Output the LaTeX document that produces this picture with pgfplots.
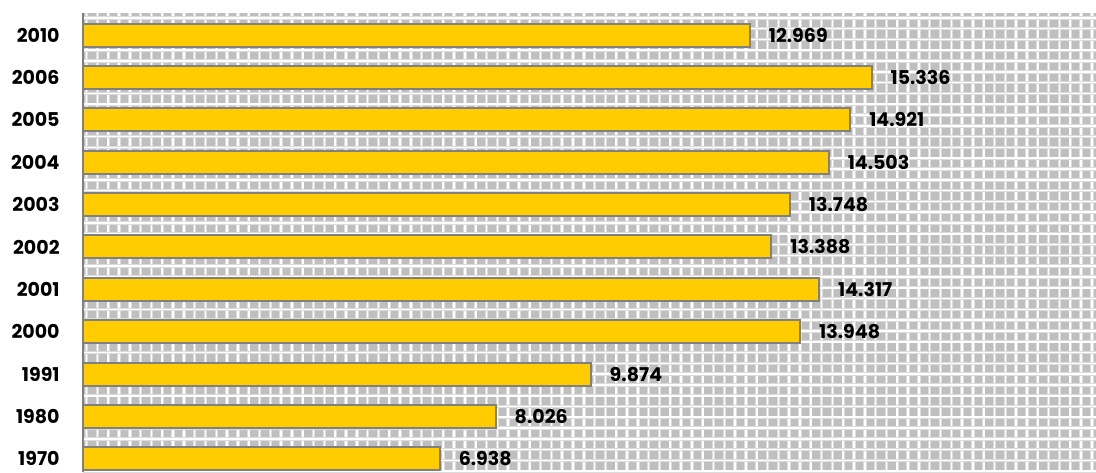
\documentclass[border=0pt]{standalone}
\usepackage{pgfplots}
\pgfplotsset{compat=1.18}
\usepackage{pgfplotstable}
\usepackage{fontspec}
\setmainfont{Poppins}

\definecolor{baryellow}{HTML}{FFCC00}
\definecolor{edgegray}{HTML}{808080}
\definecolor{patgray}{HTML}{BFBFBF}
\definecolor{halogray}{HTML}{DCDCDC}

% years from bottom to top, plotted at 0..10
\pgfplotstableread{
pos val
0  6.938
1  8.026
2  9.874
3  13.948
4  14.317
5  13.388
6  13.748
7  14.503
8  14.921
9  15.336
10 12.969
}\inhabitants

\begin{document}
\begin{tikzpicture}
\begin{axis}[
    name=ax,
    width=506.5pt, height=229.5pt,
    scale only axis,
    xbar, bar width=11.5pt,
    xmin=0, xmax=19.7,
    ymin=-0.31, ymax=10.52,
    axis background/.style={fill=patgray},
    % the tiled backdrop, as white minor grid lines
    xtick={0},
    xticklabels={},
    minor xtick={0.07,0.2802,...,19.7},
    minor ytick={-0.2926,-0.0379,...,10.52},
    ytick={0,...,10},
    yticklabels={1970,1980,1991,2000,2001,2002,2003,2004,2005,2006,2010},
    minor grid style={draw=halogray, line width=0.45pt, double=white, double distance=0.8pt},
    xminorgrids=true, yminorgrids=true,
    major tick length=0pt, minor tick length=0pt,
    axis lines*=left,
    x axis line style={draw=none},
    y axis line style={draw=edgegray, line width=1.2pt, -},
    yticklabel style={font=\fontsize{9.5}{11}\selectfont\bfseries, inner sep=0pt, anchor=east, xshift=-11.5pt},
    nodes near coords={\pgfmathprintnumber[fixed,fixed zerofill,precision=3,assume math mode=true]{\pgfplotspointmeta}},
    nodes near coords style={font=\fontsize{9.5}{11}\selectfont\bfseries, anchor=west, inner sep=0pt, xshift=9pt},
]
  \addplot[fill=baryellow, draw=edgegray, line width=1pt] table[x=val, y=pos] {\inhabitants};
\end{axis}
\pgfresetboundingbox
\path ([xshift=-41.5pt]ax.south west) rectangle ([yshift=6.5pt]ax.north east);
\end{tikzpicture}
\end{document}
